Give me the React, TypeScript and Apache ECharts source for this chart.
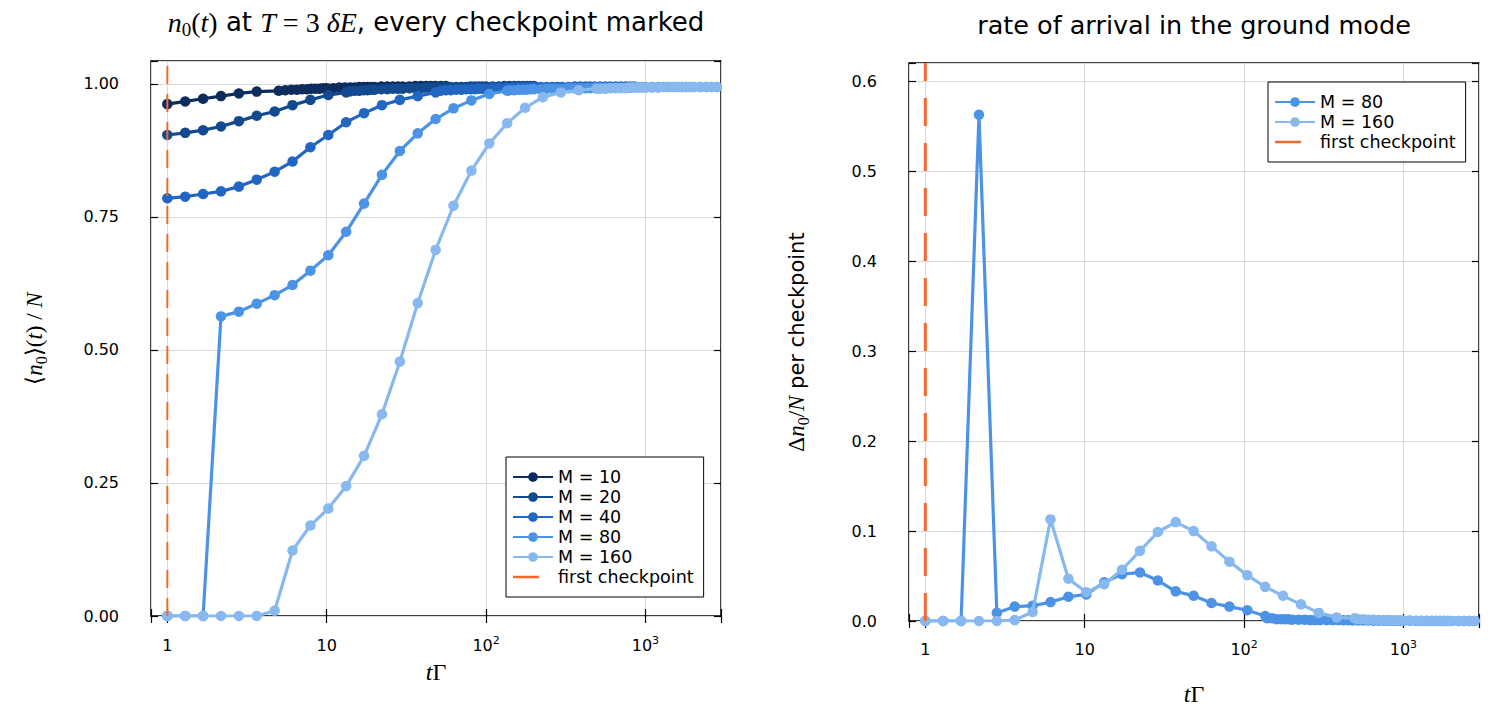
import React, { useEffect, useRef } from 'react';
import * as echarts from 'echarts';

// checkpoint times (log-spaced part), tΓ
const TIMES = [1, 1.295, 1.677, 2.171, 2.811, 3.64, 4.714, 6.104, 7.904, 10.24, 13.25, 17.16, 22.22, 28.78,
    37.27, 48.26, 62.49, 80.92, 104.8, 135.7, 175.7, 227.5, 294.6, 381.5, 494.0];

// dense checkpoints once a run has settled
const TAIL_T = [5, 5.5, 6, 6.5, 7, 7.5, 8, 8.5, 9, 9.5, 10, 11, 12, 13, 14, 15, 16, 17, 18, 19, 20, 22, 24, 26, 28, 30,
    33, 36, 39, 42, 45, 48, 52, 56, 60, 65, 70, 75, 80, 85, 90, 95, 100, 110, 120, 130, 140, 150, 160, 170, 180, 190,
    200, 220, 240, 260, 280, 300, 330, 360, 390, 420, 450, 480, 520, 560, 600, 650, 700, 750, 800, 850, 900, 950,
    1000, 1100, 1200, 1300, 1400, 1500, 1600, 1700, 1800, 1900, 2000, 2200, 2400, 2600, 2800, 3000];

const FIRST_CHECKPOINT = 1;
const M_NAMES = ['M = 10', 'M = 20', 'M = 40', 'M = 80', 'M = 160'];

// <n0>(t)/N
const N0_M10 = [0.962, 0.967, 0.972, 0.977, 0.982, 0.9855];
const N0_M10_TAIL = [0.987, 0.988, 0.989, 0.989, 0.990, 0.990, 0.991, 0.991, 0.991, 0.992, 0.992, 0.992, 0.993, 0.993,
    0.993, 0.993, 0.994, 0.994, 0.994, 0.994, 0.994, 0.995, 0.995, 0.995, 0.995, 0.995, 0.995, 0.996, 0.996, 0.996,
    0.996, 0.996, 0.996, 0.996];
const N0_M20 = [0.904, 0.908, 0.913, 0.920, 0.930, 0.940, 0.948, 0.960, 0.970, 0.979, 0.984];
const N0_M20_TAIL = [0.986, 0.987, 0.987, 0.988, 0.988, 0.989, 0.989, 0.990, 0.990, 0.991, 0.991, 0.991, 0.992, 0.992,
    0.992, 0.993, 0.993, 0.993, 0.993, 0.994, 0.994, 0.994, 0.994, 0.994, 0.995, 0.995, 0.995, 0.995, 0.995, 0.995,
    0.995, 0.996, 0.996, 0.996, 0.996, 0.996, 0.996, 0.996, 0.996];
const N0_M40 = [0.785, 0.788, 0.793, 0.798, 0.807, 0.820, 0.835, 0.854, 0.881, 0.904, 0.928, 0.945, 0.960, 0.970,
    0.977, 0.984];
const N0_M40_TAIL = [0.987, 0.988, 0.988, 0.989, 0.989, 0.990, 0.990, 0.990, 0.991, 0.991, 0.991, 0.992, 0.992, 0.992,
    0.992, 0.993, 0.993, 0.993, 0.993, 0.993, 0.994, 0.994, 0.994, 0.994, 0.994, 0.994, 0.994, 0.995, 0.995, 0.995,
    0.995, 0.995, 0.995, 0.995, 0.995, 0.995, 0.995, 0.995, 0.995, 0.995];
const N0_M80 = [0, 0, 0, 0.563, 0.572, 0.587, 0.603, 0.622, 0.649, 0.678, 0.722, 0.775, 0.829, 0.874, 0.907, 0.934,
    0.954, 0.969, 0.981, 0.987];
const N0_M80_TAIL = [0.988, 0.988, 0.989, 0.989, 0.989, 0.990, 0.990, 0.990, 0.991, 0.991, 0.991, 0.991, 0.992, 0.992,
    0.992, 0.992, 0.992, 0.993, 0.993, 0.993, 0.993, 0.993, 0.993, 0.993, 0.993, 0.994, 0.994, 0.994, 0.994, 0.994,
    0.994, 0.994, 0.994, 0.994, 0.994, 0.994, 0.994, 0.994, 0.994, 0.994, 0.994, 0.994, 0.994, 0.994];
const N0_M160 = [0, 0, 0, 0, 0, 0, 0.010, 0.123, 0.170, 0.202, 0.244, 0.301, 0.379, 0.478, 0.588, 0.688, 0.771, 0.837,
    0.888, 0.926, 0.955, 0.975, 0.984, 0.988, 0.991];
const N0_M160_TAIL = [0.991, 0.991, 0.992, 0.992, 0.992, 0.992, 0.993, 0.993, 0.993, 0.993, 0.993, 0.993, 0.993, 0.994,
    0.994, 0.994, 0.994, 0.994, 0.994, 0.994, 0.994, 0.994, 0.994, 0.994, 0.994, 0.994];

// Δn0/N per checkpoint
const RATE_M80 = [0, 0, 0, 0.563, 0.009, 0.016, 0.017, 0.021, 0.027, 0.0296, 0.043, 0.052, 0.054, 0.045, 0.033,
    0.028, 0.020, 0.016, 0.012, 0.0056];
const RATE_M80_TAIL = [0.003, 0.003, 0.002, 0.002, 0.002, 0.002, 0.0015, 0.0015, 0.0015, 0.001, 0.001, 0.001, 0.001,
    0.001, 0.001, 0.0008, 0.0008, 0.0006, 0.0006, 0.0005, 0.0005, 0.0004, 0.0004, 0.0003, 0.0003, 0.0003, 0.0002,
    0.0002, 0.0002, 0.0002, 0.0001, 0.0001, 0.0001, 0.0001, 0.0001, 0.0001, 0.0001, 0.0001, 0, 0, 0, 0, 0, 0];
const RATE_M160 = [0, 0, 0, 0, 0, 0.001, 0.010, 0.113, 0.047, 0.032, 0.041, 0.057, 0.078, 0.099, 0.110, 0.100, 0.083,
    0.066, 0.051, 0.038, 0.028, 0.0185, 0.009, 0.004, 0.003];
const RATE_M160_TAIL = [0.002, 0.002, 0.0015, 0.0015, 0.001, 0.001, 0.001, 0.0008, 0.0008, 0.0006, 0.0006, 0.0005,
    0.0004, 0.0004, 0.0003, 0.0003, 0.0002, 0.0002, 0.0002, 0.0001, 0.0001, 0.0001, 0.0001, 0.0001, 0, 0];

const COLORS = ['#0c2c5e', '#134a8f', '#2266c3', '#4c93e6', '#87b8ef'];
const ORANGE = '#f3692d';
const SANS = 'DejaVu Sans';
const SERIF = 'Liberation Serif';

const X_MIN = 0.79;
const X_MAX = 2980;
const Y1_MAX = 1.043;
const Y2_MAX = 0.6206;

const pairs = (ts: number[], vs: number[]) => vs.map((v, i) => [ts[i], v]);
const curve = (disc: number[], tailFrom: number, tail: number[]) => {
    const i0 = TAIL_T.indexOf(tailFrom);
    return [...pairs(TIMES, disc), ...pairs(TAIL_T.slice(i0), tail)];
};

const mathRich = (size: number, sans = size - 2) => ({
    mi: { fontFamily: SERIF, fontStyle: 'italic', fontWeight: 'normal', fontSize: size, lineHeight: size + 6, color: '#000' },
    m: { fontFamily: SERIF, fontWeight: 'normal', fontSize: size, lineHeight: size + 6, color: '#000' },
    sub: { fontFamily: SERIF, fontWeight: 'normal', fontSize: Math.round(size * 0.68), verticalAlign: 'bottom', lineHeight: 12, color: '#000' },
    s: { fontFamily: SANS, fontWeight: 'normal', fontSize: sans, lineHeight: size + 6, color: '#000' }
});

const powLabel = (v: number) => {
    const l = Math.log10(v);
    const e = Math.round(l);
    if (Math.abs(l - e) > 1e-6) return '';
    if (e === 0) return '1';
    if (e === 1) return '10';
    return `10{sup|${e}}`;
};

const tick = { inside: true, length: 7, lineStyle: { color: '#000', width: 1.2 } };
const split = { show: true, lineStyle: { color: '#d9d9d9', width: 1 } };

const xAxes = (gridIndex: number, nameGap: number, labelMargin: number) => [
    {
        type: 'log', gridIndex, min: X_MIN, max: X_MAX, logBase: 10,
        axisLine: { show: false }, axisTick: tick, minorTick: { show: false }, splitLine: split,
        axisLabel: {
            formatter: powLabel, margin: labelMargin, color: '#000', fontFamily: SANS, fontSize: 16, lineHeight: 20,
            rich: { sup: { fontFamily: SANS, fontSize: 11, verticalAlign: 'top', lineHeight: 8, color: '#000' } }
        },
        name: '{mi|t}{m|Γ}', nameLocation: 'middle', nameGap,
        nameTextStyle: { rich: mathRich(24) }
    },
    {
        type: 'log', gridIndex, min: X_MIN, max: X_MAX, logBase: 10, position: 'top',
        axisLine: { show: false }, axisTick: tick, minorTick: { show: false },
        splitLine: { show: false }, axisLabel: { show: false }
    }
];

const yAxes = (gridIndex: number, max: number, interval: number, digits: number, name: string, nameGap: number) => [
    {
        type: 'value', gridIndex, min: 0, max, interval,
        axisLine: { show: false }, axisTick: tick, splitLine: split,
        axisLabel: {
            // the top of the frame is not a tick value
            formatter: (v: number) => (Math.abs(v / interval - Math.round(v / interval)) > 1e-6 ? '' : v.toFixed(digits)),
            margin: 32, color: '#000', fontFamily: SANS, fontSize: 16
        },
        name, nameLocation: 'middle', nameRotate: 90, nameGap,
        nameTextStyle: { rich: mathRich(23) }
    },
    {
        type: 'value', gridIndex, min: 0, max, interval, position: 'right',
        axisLine: { show: false }, axisTick: tick, splitLine: { show: false }, axisLabel: { show: false }
    }
];

const lineSeries = (name: string, color: string, data: number[][], axis: number, z: number) => ({
    name, type: 'line', data, xAxisIndex: axis, yAxisIndex: axis, z,
    symbol: 'circle', symbolSize: 10.5, showAllSymbol: true,
    lineStyle: { color, width: 3.2 }, itemStyle: { color, borderWidth: 0 },
    emphasis: { disabled: true }
});

const checkpointSeries = (axis: number, top: number, width: number, dash: number[]) => ({
    name: 'first checkpoint', type: 'line', xAxisIndex: axis, yAxisIndex: axis, z: 10,
    data: [[FIRST_CHECKPOINT, 0], [FIRST_CHECKPOINT, top]],
    symbol: 'none', lineStyle: { color: ORANGE, width, type: dash }, itemStyle: { color: ORANGE },
    emphasis: { disabled: true }
});

const legendBase = {
    orient: 'vertical', itemWidth: 40, itemHeight: 12, itemGap: 0,
    padding: [10, 10, 10, 6], borderColor: '#000', borderWidth: 1, borderRadius: 0, backgroundColor: '#fff',
    textStyle: { fontFamily: SANS, fontSize: 17.5, color: '#000', lineHeight: 20 },
    selectedMode: false
};
const checkpointLegendItem = {
    name: 'first checkpoint', icon: 'path://M0,0H26V2.5H0ZM40,0V2.5', itemStyle: { borderWidth: 0 }
};

export default function App() {
    const chartRef = useRef<HTMLDivElement>(null);

    useEffect(() => {
        if (!chartRef.current) return;
        document.body.style.margin = '0';
        const chart = echarts.init(chartRef.current, null, { renderer: 'svg' });

        const left = [
            curve(N0_M10, 5, N0_M10_TAIL),
            curve(N0_M20, 14, N0_M20_TAIL),
            curve(N0_M40, 52, N0_M40_TAIL),
            curve(N0_M80, 140, N0_M80_TAIL),
            curve(N0_M160, 520, N0_M160_TAIL)
        ];

        const option = {
            animation: false,
            textStyle: { fontFamily: SANS },
            title: [
                {
                    text: '{mi|n}{sub|0}{m|(}{mi|t}{m|)}{s| at }{mi|T}{m| = 3 }{mi|δE}{s|, every checkpoint marked}',
                    left: 436, top: 5, textAlign: 'center', padding: 0,
                    textStyle: { fontWeight: 'normal', rich: mathRich(28, 26) }
                },
                {
                    text: 'rate of arrival in the ground mode', left: 1194, top: 12, textAlign: 'center', padding: 0,
                    textStyle: { fontFamily: SANS, fontSize: 25.5, fontWeight: 'normal', color: '#000' }
                }
            ],
            grid: [
                { left: 151, top: 61, width: 570, height: 555, show: true, borderColor: '#000', borderWidth: 1.5, backgroundColor: 'transparent' },
                { left: 909, top: 63, width: 570, height: 558, show: true, borderColor: '#000', borderWidth: 1.5, backgroundColor: 'transparent' }
            ],
            xAxis: [...xAxes(0, 27, 19), ...xAxes(1, 58, 18)],
            yAxis: [
                ...yAxes(0, Y1_MAX, 0.25, 2, '{m|⟨}{mi|n}{sub|0}{m|⟩(}{mi|t}{m|) / }{mi|N}', 102),
                ...yAxes(1, Y2_MAX, 0.1, 1, '{m|Δ}{mi|n}{sub|0}{m|/}{mi|N}{s| per checkpoint}', 98)
            ],
            legend: [
                { ...legendBase, left: 506, top: 457, data: [...M_NAMES, checkpointLegendItem] },
                { ...legendBase, left: 1268, top: 82, data: ['M = 80', 'M = 160', checkpointLegendItem] }
            ],
            series: [
                ...M_NAMES.map((n, i) => lineSeries(n, COLORS[i], left[i], 0, 2 + i)),
                checkpointSeries(0, Y1_MAX, 2, [18, 10]),
                lineSeries('M = 80', COLORS[3], curve(RATE_M80, 140, RATE_M80_TAIL), 2, 2),
                lineSeries('M = 160', COLORS[4], curve(RATE_M160, 520, RATE_M160_TAIL), 2, 3),
                checkpointSeries(2, Y2_MAX, 3, [28, 17])
            ]
        };

        chart.setOption(option as any);

        return () => {
            chart.dispose();
        };
    }, []);

    return <div ref={chartRef} style={{ width: 1495, height: 720 }} />;
}
